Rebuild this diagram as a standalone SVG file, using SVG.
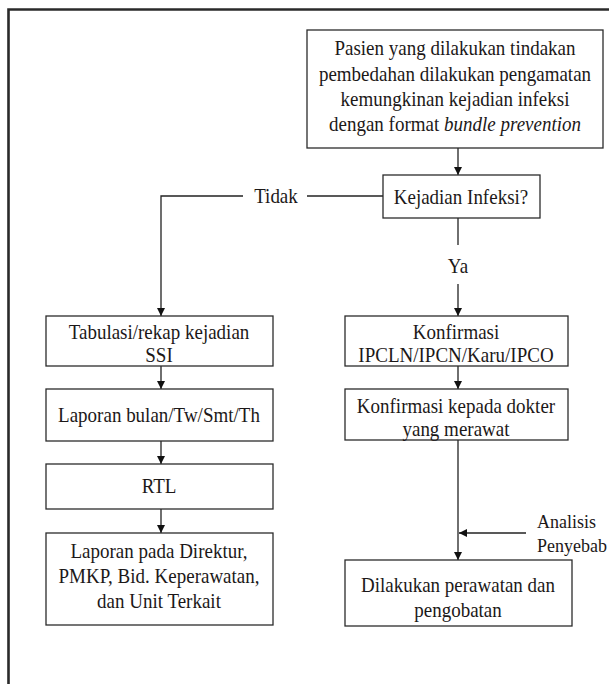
<svg xmlns="http://www.w3.org/2000/svg" width="609" height="684" viewBox="0 0 609 684">
<style>
.box{fill:#fff;stroke:#2b2b2b;stroke-width:1.3}
.t{font-family:"Liberation Serif","Times New Roman",serif;font-size:19px;fill:#1c1818;text-anchor:middle}
.s{font-family:"Liberation Serif","Times New Roman",serif;font-size:18px;fill:#1c1818}
.c{fill:none;stroke:#222;stroke-width:1.3}
.frame{fill:none;stroke:#2a2a2a;stroke-width:2.6}
</style>
<defs>
<marker id="ah" viewBox="0 0 10 10" refX="10" refY="5" markerWidth="8" markerHeight="9" markerUnits="userSpaceOnUse" orient="auto">
<path d="M0,0 L10,5 L0,10 z" fill="#111"/>
</marker>
</defs>
<rect width="609" height="684" fill="#fff"/>
<path class="frame" d="M8.5,684 V9.5 H609"/>
<g id="connectors">
<path class="c" d="M458,148 V175" marker-end="url(#ah)"/>
<path class="c" d="M383,196 H307"/>
<path class="c" d="M243,196 H161 V316" marker-end="url(#ah)"/>
<path class="c" d="M458,218 V245"/>
<path class="c" d="M458,284 V316" marker-end="url(#ah)"/>
<path class="c" d="M161,366 V389" marker-end="url(#ah)"/>
<path class="c" d="M161,441 V464" marker-end="url(#ah)"/>
<path class="c" d="M161,509 V533" marker-end="url(#ah)"/>
<path class="c" d="M458,366 V389" marker-end="url(#ah)"/>
<path class="c" d="M458,440 V560" marker-end="url(#ah)"/>
<path class="c" d="M526,533 H459" marker-end="url(#ah)"/>
<text class="t" x="276" y="184.55" transform="scale(1,1.1)">Tidak</text>
<text class="t" x="458" y="248.18" transform="scale(1,1.1)">Ya</text>
<text class="s" x="537" y="480" transform="scale(1,1.1)">Analisis</text>
<text class="s" x="537" y="501.82" transform="scale(1,1.1)">Penyebab</text>
</g>
<g id="n-pasien">
<rect class="box" x="307" y="30" width="296" height="118"/>
<text class="t" x="455" y="50" transform="scale(1,1.1)">Pasien yang dilakukan tindakan</text>
<text class="t" x="455" y="73.64" transform="scale(1,1.1)">pembedahan dilakukan pengamatan</text>
<text class="t" x="455" y="96.36" transform="scale(1,1.1)">kemungkinan kejadian infeksi</text>
<text class="t" x="455" y="119.09" transform="scale(1,1.1)">dengan format <tspan font-style="italic">bundle prevention</tspan></text>
</g>
<g id="n-kejadian">
<rect class="box" x="383" y="175" width="157" height="43"/>
<text class="t" x="461" y="185.45" transform="scale(1,1.1)">Kejadian Infeksi?</text>
</g>
<g id="n-tabulasi">
<rect class="box" x="46" y="316" width="227" height="50"/>
<text class="t" x="159" y="308.18" transform="scale(1,1.1)">Tabulasi/rekap kejadian</text>
<text class="t" x="159" y="329.09" transform="scale(1,1.1)">SSI</text>
</g>
<g id="n-laporan-bulan">
<rect class="box" x="46" y="389" width="227" height="52"/>
<text class="t" x="159" y="383.64" transform="scale(1,1.1)">Laporan bulan/Tw/Smt/Th</text>
</g>
<g id="n-rtl">
<rect class="box" x="46" y="464" width="227" height="45"/>
<text class="t" x="159" y="448.18" transform="scale(1,1.1)">RTL</text>
</g>
<g id="n-laporan-direktur">
<rect class="box" x="46" y="533" width="227" height="92"/>
<text class="t" x="159" y="507.27" transform="scale(1,1.1)">Laporan pada Direktur,</text>
<text class="t" x="159" y="530" transform="scale(1,1.1)">PMKP, Bid. Keperawatan,</text>
<text class="t" x="159" y="552.73" transform="scale(1,1.1)">dan Unit Terkait</text>
</g>
<g id="n-konfirmasi">
<rect class="box" x="345" y="316" width="223" height="50"/>
<text class="t" x="456" y="308.18" transform="scale(1,1.1)">Konfirmasi</text>
<text class="t" x="456" y="329.09" transform="scale(1,1.1)">IPCLN/IPCN/Karu/IPCO</text>
</g>
<g id="n-konfirmasi-dokter">
<rect class="box" x="345" y="389" width="223" height="51"/>
<text class="t" x="456" y="375.45" transform="scale(1,1.1)">Konfirmasi kepada dokter</text>
<text class="t" x="456" y="396.36" transform="scale(1,1.1)">yang merawat</text>
</g>
<g id="n-dilakukan">
<rect class="box" x="345" y="560" width="227" height="66"/>
<text class="t" x="458" y="538.18" transform="scale(1,1.1)">Dilakukan perawatan dan</text>
<text class="t" x="458" y="560.91" transform="scale(1,1.1)">pengobatan</text>
</g>
</svg>
